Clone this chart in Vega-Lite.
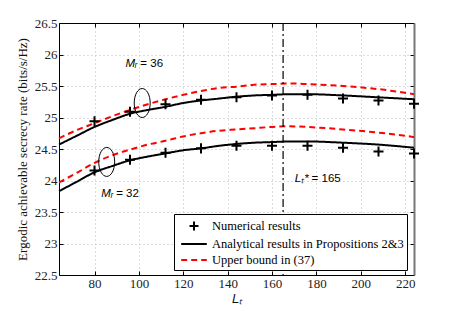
{
  "$schema": "https://vega.github.io/schema/vega-lite/v6.json",
  "width": 355,
  "height": 252,
  "autosize": "none",
  "padding": {"left": 59, "top": 23, "right": 43, "bottom": 36},
  "background": "white",
  "config": {
    "view": {"stroke": null},
    "axis": {
      "domainColor": "#000",
      "tickColor": "#000",
      "tickSize": -4,
      "labelFont": "Liberation Serif",
      "labelFontSize": 13,
      "labelColor": "#222",
      "titleFont": "Liberation Serif",
      "titleFontSize": 13,
      "titleFontWeight": "normal",
      "titleColor": "#111",
      "gridColor": "#bbb",
      "gridDash": [1, 3],
      "gridWidth": 1
    }
  },
  "datasets": {
    "curves": [
      {"L": 64, "v": 24.57, "series": "Analytical results in Propositions 2&3", "grp": "A36"},
      {"L": 72, "v": 24.71, "series": "Analytical results in Propositions 2&3", "grp": "A36"},
      {"L": 80, "v": 24.85, "series": "Analytical results in Propositions 2&3", "grp": "A36"},
      {"L": 88, "v": 24.96, "series": "Analytical results in Propositions 2&3", "grp": "A36"},
      {"L": 96, "v": 25.06, "series": "Analytical results in Propositions 2&3", "grp": "A36"},
      {"L": 104, "v": 25.12, "series": "Analytical results in Propositions 2&3", "grp": "A36"},
      {"L": 112, "v": 25.17, "series": "Analytical results in Propositions 2&3", "grp": "A36"},
      {"L": 120, "v": 25.23, "series": "Analytical results in Propositions 2&3", "grp": "A36"},
      {"L": 128, "v": 25.27, "series": "Analytical results in Propositions 2&3", "grp": "A36"},
      {"L": 136, "v": 25.30, "series": "Analytical results in Propositions 2&3", "grp": "A36"},
      {"L": 144, "v": 25.33, "series": "Analytical results in Propositions 2&3", "grp": "A36"},
      {"L": 152, "v": 25.35, "series": "Analytical results in Propositions 2&3", "grp": "A36"},
      {"L": 160, "v": 25.36, "series": "Analytical results in Propositions 2&3", "grp": "A36"},
      {"L": 168, "v": 25.37, "series": "Analytical results in Propositions 2&3", "grp": "A36"},
      {"L": 176, "v": 25.37, "series": "Analytical results in Propositions 2&3", "grp": "A36"},
      {"L": 192, "v": 25.35, "series": "Analytical results in Propositions 2&3", "grp": "A36"},
      {"L": 208, "v": 25.32, "series": "Analytical results in Propositions 2&3", "grp": "A36"},
      {"L": 224, "v": 25.29, "series": "Analytical results in Propositions 2&3", "grp": "A36"},

      {"L": 64, "v": 24.67, "series": "Upper bound in (37)", "grp": "U36"},
      {"L": 72, "v": 24.80, "series": "Upper bound in (37)", "grp": "U36"},
      {"L": 80, "v": 24.91, "series": "Upper bound in (37)", "grp": "U36"},
      {"L": 88, "v": 25.02, "series": "Upper bound in (37)", "grp": "U36"},
      {"L": 96, "v": 25.12, "series": "Upper bound in (37)", "grp": "U36"},
      {"L": 104, "v": 25.21, "series": "Upper bound in (37)", "grp": "U36"},
      {"L": 112, "v": 25.29, "series": "Upper bound in (37)", "grp": "U36"},
      {"L": 120, "v": 25.36, "series": "Upper bound in (37)", "grp": "U36"},
      {"L": 128, "v": 25.42, "series": "Upper bound in (37)", "grp": "U36"},
      {"L": 136, "v": 25.47, "series": "Upper bound in (37)", "grp": "U36"},
      {"L": 144, "v": 25.49, "series": "Upper bound in (37)", "grp": "U36"},
      {"L": 152, "v": 25.52, "series": "Upper bound in (37)", "grp": "U36"},
      {"L": 160, "v": 25.53, "series": "Upper bound in (37)", "grp": "U36"},
      {"L": 168, "v": 25.54, "series": "Upper bound in (37)", "grp": "U36"},
      {"L": 176, "v": 25.53, "series": "Upper bound in (37)", "grp": "U36"},
      {"L": 192, "v": 25.50, "series": "Upper bound in (37)", "grp": "U36"},
      {"L": 208, "v": 25.45, "series": "Upper bound in (37)", "grp": "U36"},
      {"L": 224, "v": 25.37, "series": "Upper bound in (37)", "grp": "U36"},

      {"L": 64, "v": 23.83, "series": "Analytical results in Propositions 2&3", "grp": "A32"},
      {"L": 72, "v": 23.98, "series": "Analytical results in Propositions 2&3", "grp": "A32"},
      {"L": 80, "v": 24.13, "series": "Analytical results in Propositions 2&3", "grp": "A32"},
      {"L": 88, "v": 24.23, "series": "Analytical results in Propositions 2&3", "grp": "A32"},
      {"L": 96, "v": 24.32, "series": "Analytical results in Propositions 2&3", "grp": "A32"},
      {"L": 104, "v": 24.38, "series": "Analytical results in Propositions 2&3", "grp": "A32"},
      {"L": 112, "v": 24.43, "series": "Analytical results in Propositions 2&3", "grp": "A32"},
      {"L": 120, "v": 24.48, "series": "Analytical results in Propositions 2&3", "grp": "A32"},
      {"L": 128, "v": 24.51, "series": "Analytical results in Propositions 2&3", "grp": "A32"},
      {"L": 136, "v": 24.55, "series": "Analytical results in Propositions 2&3", "grp": "A32"},
      {"L": 144, "v": 24.58, "series": "Analytical results in Propositions 2&3", "grp": "A32"},
      {"L": 152, "v": 24.60, "series": "Analytical results in Propositions 2&3", "grp": "A32"},
      {"L": 160, "v": 24.61, "series": "Analytical results in Propositions 2&3", "grp": "A32"},
      {"L": 168, "v": 24.62, "series": "Analytical results in Propositions 2&3", "grp": "A32"},
      {"L": 176, "v": 24.62, "series": "Analytical results in Propositions 2&3", "grp": "A32"},
      {"L": 192, "v": 24.60, "series": "Analytical results in Propositions 2&3", "grp": "A32"},
      {"L": 208, "v": 24.57, "series": "Analytical results in Propositions 2&3", "grp": "A32"},
      {"L": 224, "v": 24.52, "series": "Analytical results in Propositions 2&3", "grp": "A32"},

      {"L": 64, "v": 23.97, "series": "Upper bound in (37)", "grp": "U32"},
      {"L": 72, "v": 24.12, "series": "Upper bound in (37)", "grp": "U32"},
      {"L": 80, "v": 24.28, "series": "Upper bound in (37)", "grp": "U32"},
      {"L": 88, "v": 24.40, "series": "Upper bound in (37)", "grp": "U32"},
      {"L": 96, "v": 24.49, "series": "Upper bound in (37)", "grp": "U32"},
      {"L": 104, "v": 24.57, "series": "Upper bound in (37)", "grp": "U32"},
      {"L": 112, "v": 24.63, "series": "Upper bound in (37)", "grp": "U32"},
      {"L": 120, "v": 24.70, "series": "Upper bound in (37)", "grp": "U32"},
      {"L": 128, "v": 24.75, "series": "Upper bound in (37)", "grp": "U32"},
      {"L": 136, "v": 24.79, "series": "Upper bound in (37)", "grp": "U32"},
      {"L": 144, "v": 24.81, "series": "Upper bound in (37)", "grp": "U32"},
      {"L": 152, "v": 24.83, "series": "Upper bound in (37)", "grp": "U32"},
      {"L": 160, "v": 24.85, "series": "Upper bound in (37)", "grp": "U32"},
      {"L": 168, "v": 24.86, "series": "Upper bound in (37)", "grp": "U32"},
      {"L": 176, "v": 24.85, "series": "Upper bound in (37)", "grp": "U32"},
      {"L": 192, "v": 24.81, "series": "Upper bound in (37)", "grp": "U32"},
      {"L": 208, "v": 24.76, "series": "Upper bound in (37)", "grp": "U32"},
      {"L": 224, "v": 24.69, "series": "Upper bound in (37)", "grp": "U32"}
    ],
    "points": [
      {"L": 80, "v": 24.94, "series": "Numerical results"},
      {"L": 96, "v": 25.09, "series": "Numerical results"},
      {"L": 112, "v": 25.21, "series": "Numerical results"},
      {"L": 128, "v": 25.28, "series": "Numerical results"},
      {"L": 144, "v": 25.32, "series": "Numerical results"},
      {"L": 160, "v": 25.35, "series": "Numerical results"},
      {"L": 176, "v": 25.36, "series": "Numerical results"},
      {"L": 192, "v": 25.30, "series": "Numerical results"},
      {"L": 208, "v": 25.27, "series": "Numerical results"},
      {"L": 224, "v": 25.22, "series": "Numerical results"},
      {"L": 80, "v": 24.16, "series": "Numerical results"},
      {"L": 96, "v": 24.33, "series": "Numerical results"},
      {"L": 112, "v": 24.44, "series": "Numerical results"},
      {"L": 128, "v": 24.51, "series": "Numerical results"},
      {"L": 144, "v": 24.55, "series": "Numerical results"},
      {"L": 160, "v": 24.55, "series": "Numerical results"},
      {"L": 176, "v": 24.55, "series": "Numerical results"},
      {"L": 192, "v": 24.52, "series": "Numerical results"},
      {"L": 208, "v": 24.46, "series": "Numerical results"},
      {"L": 224, "v": 24.43, "series": "Numerical results"}
    ],
    "ellipses": [
      {"L": 101.5, "v": 25.23},
      {"L": 85.5, "v": 24.295}
    ],
    "ann": [
      {"L": 99.3, "v": 25.85, "a": "Mᵣ", "b": "= 36"},
      {"L": 88.4, "v": 23.79, "a": "Mᵣ", "b": "= 32"},
      {"L": 176.5, "v": 24.03, "a": "Lₜ*", "b": "= 165"}
    ],
    "vline": [{"L": 165}]
  },
  "layer": [
    {
      "data": {"name": "curves"},
      "mark": {"type": "line", "interpolate": "monotone", "strokeWidth": 2},
      "encoding": {
        "x": {
          "field": "L", "type": "quantitative",
          "scale": {"domain": [64, 224], "nice": false, "zero": false},
          "axis": {
            "values": [80, 100, 120, 140, 160, 180, 200, 220],
            "title": "Lₜ", "titleFontStyle": "italic", "titleFont": "Liberation Sans",
            "titleFontSize": 13, "labelPadding": 6, "titlePadding": 2
          }
        },
        "y": {
          "field": "v", "type": "quantitative",
          "scale": {"domain": [22.5, 26.5], "nice": false, "zero": false},
          "axis": {
            "values": [22.5, 23, 23.5, 24, 24.5, 25, 25.5, 26, 26.5],
            "format": ".1~f",
            "title": "Ergodic achievable secrecy rate (bits/s/Hz)",
            "labelPadding": 6, "titlePadding": 5
          }
        },
        "detail": {"field": "grp"},
        "color": {
          "field": "series", "type": "nominal",
          "scale": {
            "domain": ["Numerical results", "Analytical results in Propositions 2&3", "Upper bound in (37)"],
            "range": ["#000000", "#000000", "#ff0000"]
          },
          "legend": {
            "title": null, "orient": "none", "legendX": 115, "legendY": 191,
            "labelFont": "Liberation Serif", "labelFontSize": 12.5, "labelColor": "#000", "labelLimit": 400,
            "fillColor": "white", "strokeColor": "#000", "padding": 3,
            "symbolSize": 256, "symbolStrokeWidth": 2, "symbolFillColor": "transparent",
            "symbolOffset": 8, "labelOffset": 9, "rowPadding": 0
          }
        },
        "strokeDash": {
          "field": "series", "type": "nominal",
          "scale": {
            "domain": ["Numerical results", "Analytical results in Propositions 2&3", "Upper bound in (37)"],
            "range": [[1, 0], [1, 0], [6, 4]]
          },
          "legend": {"title": null}
        }
      }
    },
    {
      "data": {"name": "points"},
      "mark": {"type": "point", "filled": false, "strokeWidth": 2, "size": 320, "opacity": 1},
      "encoding": {
        "x": {"field": "L", "type": "quantitative", "axis": null},
        "y": {"field": "v", "type": "quantitative", "axis": null},
        "color": {"field": "series", "type": "nominal"},
        "shape": {
          "field": "series", "type": "nominal",
          "scale": {
            "domain": ["Numerical results", "Analytical results in Propositions 2&3", "Upper bound in (37)"],
            "range": ["M-0.56,0H0.56M0,-0.56V0.56", "M-1.6,0H1.6", "M-1.6,0H1.6"]
          },
          "legend": {"title": null}
        }
      }
    },
    {
      "data": {"name": "vline"},
      "mark": {"type": "rule", "color": "#000", "strokeWidth": 1.2, "strokeDash": [8, 3, 2, 3]},
      "encoding": {
        "x": {"field": "L", "type": "quantitative", "axis": null}
      }
    },
    {
      "data": {"name": "ann"},
      "mark": {"type": "text", "align": "right", "baseline": "middle", "font": "Liberation Sans", "fontSize": 11.5, "fontStyle": "italic", "color": "#000"},
      "encoding": {
        "x": {"field": "L", "type": "quantitative", "axis": null},
        "y": {"field": "v", "type": "quantitative", "axis": null},
        "text": {"field": "a"}
      }
    },
    {
      "data": {"name": "ann"},
      "mark": {"type": "text", "align": "left", "baseline": "middle", "dx": 3, "font": "Liberation Sans", "fontSize": 11.5, "color": "#000"},
      "encoding": {
        "x": {"field": "L", "type": "quantitative", "axis": null},
        "y": {"field": "v", "type": "quantitative", "axis": null},
        "text": {"field": "b"}
      }
    },
    {
      "data": {"name": "ellipses"},
      "mark": {"type": "point", "filled": false, "stroke": "#000", "strokeWidth": 1, "size": 841, "opacity": 1,
               "shape": "M0,-1A0.55,1 0 1,1 0,1A0.55,1 0 1,1 0,-1Z"},
      "encoding": {
        "x": {"field": "L", "type": "quantitative",
              "axis": {"orient": "top", "labels": false, "grid": false, "title": null, "values": [80, 100, 120, 140, 160, 180, 200, 220]}},
        "y": {"field": "v", "type": "quantitative",
              "axis": {"orient": "right", "labels": false, "grid": false, "title": null, "values": [22.5, 23, 23.5, 24, 24.5, 25, 25.5, 26, 26.5], "domainColor": "#777", "domainWidth": 2}}
      }
    }
  ],
  "resolve": {"axis": {"x": "independent", "y": "independent"}}
}
